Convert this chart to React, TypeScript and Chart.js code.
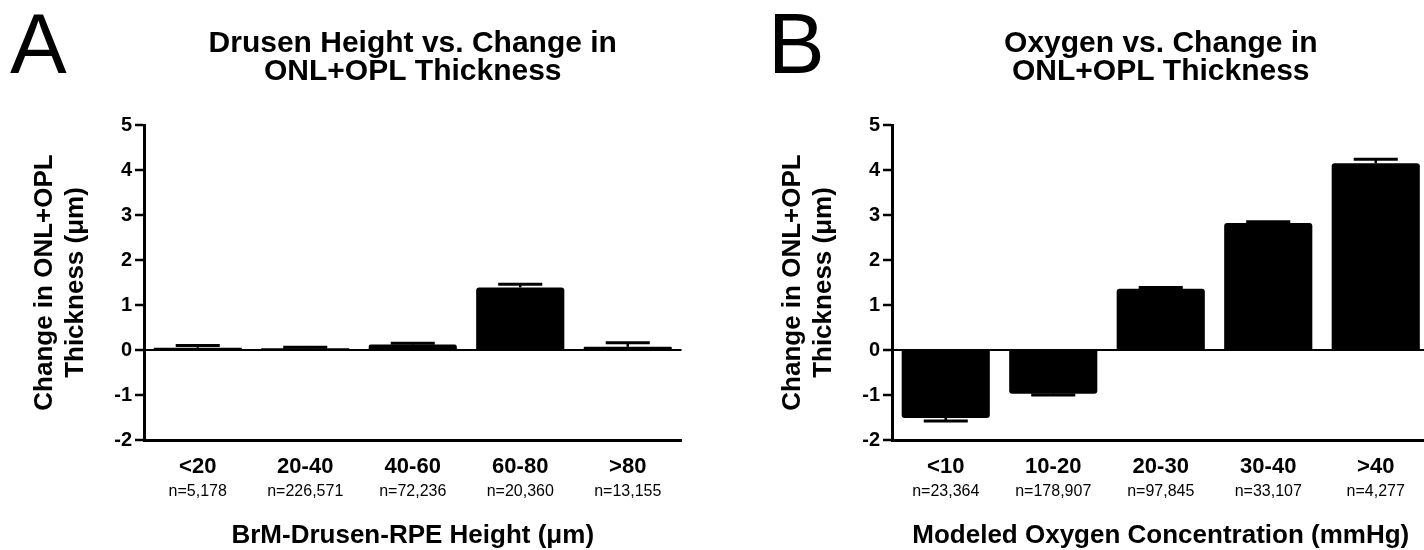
import React, { useEffect, useRef } from 'react';
import { Chart, registerables } from 'chart.js';

Chart.register(...registerables);

const FONT = "'Liberation Sans', Arial, Helvetica, sans-serif";

// Panel A
const drusenCategories = ['<20', '20-40', '40-60', '60-80', '>80'];
const drusenCounts = ['n=5,178', 'n=226,571', 'n=72,236', 'n=20,360', 'n=13,155'];
const drusenMeans = [0.05, 0.04, 0.12, 1.39, 0.07];
const drusenSem = [0.05, 0.02, 0.03, 0.07, 0.09];

// Panel B
const oxygenCategories = ['<10', '10-20', '20-30', '30-40', '>40'];
const oxygenCounts = ['n=23,364', 'n=178,907', 'n=97,845', 'n=33,107', 'n=4,277'];
const oxygenMeans = [-1.51, -0.97, 1.36, 2.82, 4.15];
const oxygenSem = [0.07, 0.03, 0.03, 0.03, 0.09];

const yMin = -2;
const yMax = 5;
const yStep = 1;

const errorBarPlugin = {
  id: 'errorBars',
  afterDatasetsDraw(chart: any, _args: any, opts: any) {
    const meta = chart.getDatasetMeta(0);
    const ds = chart.data.datasets[0];
    const errs: number[] = ds.errors;
    const y = chart.scales.y;
    const ctx = chart.ctx;
    ctx.save();
    ctx.strokeStyle = '#000';
    ctx.lineCap = 'butt';
    meta.data.forEach((bar: any, i: number) => {
      const v = ds.data[i] as number;
      const e = errs[i];
      const tip = v >= 0 ? v + e : v - e;
      const yBar = y.getPixelForValue(v);
      const yTip = y.getPixelForValue(tip);
      const half = (bar.width * opts.capRatio) / 2;
      ctx.lineWidth = opts.stemWidth;
      ctx.beginPath();
      ctx.moveTo(bar.x, yBar);
      ctx.lineTo(bar.x, yTip);
      ctx.stroke();
      ctx.lineWidth = opts.capWidth;
      ctx.beginPath();
      ctx.moveTo(bar.x - half, yTip);
      ctx.lineTo(bar.x + half, yTip);
      ctx.stroke();
    });
    ctx.restore();
  },
};

const panelLetterPlugin = {
  id: 'panelLetter',
  afterDraw(chart: any, _args: any, opts: any) {
    const ctx = chart.ctx;
    ctx.save();
    ctx.fillStyle = '#000';
    ctx.font = `${opts.size}px ${FONT}`;
    ctx.textBaseline = 'alphabetic';
    ctx.textAlign = 'left';
    ctx.fillText(opts.text, opts.x, opts.y);
    ctx.restore();
  },
};

type PanelProps = {
  letter: string;
  letterX: number;
  title: string[];
  categories: string[];
  counts: string[];
  means: number[];
  sem: number[];
  xTitle: string;
  padLeft: number;
  padRight: number;
  width: number;
  left: number;
};

function Panel(p: PanelProps) {
  const ref = useRef<HTMLCanvasElement>(null);
  useEffect(() => {
    const chart = new Chart(ref.current as HTMLCanvasElement, {
      type: 'bar',
      data: {
        labels: p.categories,
        datasets: [
          {
            data: p.means,
            errors: p.sem,
            backgroundColor: '#000',
            borderWidth: 0,
            borderRadius: 3,
            borderSkipped: 'start',
            barPercentage: 0.82,
            categoryPercentage: 1,
          } as any,
        ],
      },
      options: {
        responsive: false,
        animation: false,
        events: [],
        layout: { padding: { left: p.padLeft, right: p.padRight, top: 0, bottom: 0 } },
        plugins: {
          legend: { display: false },
          tooltip: { enabled: false },
          title: {
            display: true,
            text: p.title,
            color: '#000',
            fullSize: false,
            font: { family: FONT, size: 30, weight: 'bold', lineHeight: 0.95 },
            padding: { top: 29, bottom: 39 },
          },
          errorBars: { capRatio: 0.5, stemWidth: 2.5, capWidth: 3 },
          panelLetter: { text: p.letter, x: p.letterX, y: 72.7, size: 85 },
        } as any,
        scales: {
          x: {
            type: 'category',
            position: 'bottom',
            weight: 0,
            offset: true,
            grid: { display: false, drawTicks: false },
            border: { display: true, color: '#000', width: 3 },
            ticks: {
              color: '#000',
              font: { family: FONT, size: 22, weight: 'bold', lineHeight: 1.2 },
              padding: 14,
              maxRotation: 0,
              autoSkip: false,
            },
            afterFit: (s: any) => {
              s.height = 40;
            },
          },
          n: {
            type: 'category',
            position: 'bottom',
            weight: 1,
            offset: true,
            labels: p.counts,
            grid: { display: false, drawTicks: false },
            border: { display: false },
            ticks: {
              color: '#000',
              font: { family: FONT, size: 16, lineHeight: 1.2 },
              padding: 2.4,
              maxRotation: 0,
              autoSkip: false,
            },
            title: {
              display: true,
              text: p.xTitle,
              color: '#000',
              font: { family: FONT, size: 26, weight: 'bold', lineHeight: 1 },
              padding: { top: 0, bottom: 1 },
            },
            afterFit: (s: any) => {
              s.height = 70;
            },
          },
          y: {
            type: 'linear',
            min: yMin,
            max: yMax,
            ticks: {
              stepSize: yStep,
              color: '#000',
              font: { family: FONT, size: 20, weight: 'bold' },
              padding: 3,
            },
            grid: {
              drawOnChartArea: true,
              drawTicks: true,
              tickLength: 9,
              tickWidth: 2.5,
              tickColor: '#000',
              lineWidth: 2,
              color: (ctx: any) => (ctx.tick && ctx.tick.value === 0 ? '#000' : 'rgba(0,0,0,0)'),
            },
            border: { display: true, color: '#000', width: 3 },
            title: {
              display: true,
              text: ['Change in ONL+OPL', 'Thickness (\u03bcm)'],
              color: '#000',
              font: { family: FONT, size: 26, weight: 'bold', lineHeight: 1.2 },
              padding: { top: 29, bottom: 0 },
            },
            afterFit: (s: any) => {
              s.width = 144;
            },
          },
        } as any,
      },
      plugins: [errorBarPlugin, panelLetterPlugin],
    });
    return () => chart.destroy();
  }, []);
  return (
    <canvas
      ref={ref}
      width={p.width}
      height={550}
      style={{ position: 'absolute', left: p.left, top: 0, width: p.width, height: 550 }}
    />
  );
}

export default function App() {
  return (
    <div
      style={{
        position: 'fixed',
        left: 0,
        top: 0,
        width: 1424,
        height: 550,
        overflow: 'hidden',
        background: '#fff',
      }}
    >
      <Panel
        letter="A"
        letterX={10}
        title={['Drusen Height vs. Change in', 'ONL+OPL Thickness']}
        categories={drusenCategories}
        counts={drusenCounts}
        means={drusenMeans}
        sem={drusenSem}
        xTitle={'BrM-Drusen-RPE Height (\u03bcm)'}
        padLeft={0}
        padRight={30.5}
        width={712}
        left={0}
      />
      <Panel
        letter="B"
        letterX={56}
        title={['Oxygen vs. Change in', 'ONL+OPL Thickness']}
        categories={oxygenCategories}
        counts={oxygenCounts}
        means={oxygenMeans}
        sem={oxygenSem}
        xTitle="Modeled Oxygen Concentration (mmHg)"
        padLeft={36}
        padRight={32.5}
        width={750}
        left={712}
      />
    </div>
  );
}
